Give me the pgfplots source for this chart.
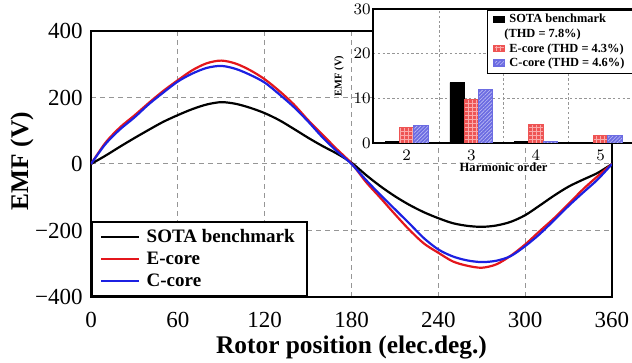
\documentclass[border=0pt]{standalone}
\usepackage{pgfplots}
\pgfplotsset{compat=1.18}
\usepackage{fontspec}
\setmainfont{Liberation Serif}
\usetikzlibrary{patterns.meta}

\definecolor{curvered}{RGB}{228,22,28}
\definecolor{curveblue}{RGB}{28,32,226}
\definecolor{barred}{RGB}{238,84,84}
\definecolor{barredlight}{RGB}{250,170,170}
\definecolor{barblue}{RGB}{108,108,226}
\definecolor{barbluelight}{RGB}{190,190,245}
\definecolor{gridgray}{RGB}{150,150,150}

\begin{document}
\begin{tikzpicture}
\useasboundingbox (0,0) rectangle (316pt,181.5pt);

% ---------------- back-EMF waveforms ----------------
\begin{axis}[
  at={(45.5pt,33pt)}, anchor=south west,
  scale only axis, width=260.5pt, height=133pt,
  xmin=0, xmax=360, ymin=-400, ymax=400,
  xtick={0,60,...,360}, ytick={-400,-200,0,200,400},
  yticklabels={−400,−200,0,200,400},
  /pgf/number format/assume math mode=true,
  grid=major,
  grid style={gridgray, dash pattern=on 2.5pt off 2pt, line width=0.5pt},
  axis line style={line width=1.2pt},
  major tick length=0pt,
  tick label style={font=\fontsize{11.5}{12}\selectfont, inner sep=0pt},
  xticklabel style={anchor=center, yshift=-11.5pt},
  yticklabel style={anchor=east, xshift=-4pt},
  xlabel={Rotor position (elec.deg.)},
  ylabel={EMF (V)},
  every axis x label/.style={at={(axis description cs:0.5,0)}, yshift=-25pt, anchor=center,
    font=\bfseries\fontsize{12.7}{14}\selectfont},
  every axis y label/.style={at={(axis description cs:0,0.5)}, xshift=-34.5pt, yshift=1.5pt,
    rotate=90, anchor=center, font=\bfseries\fontsize{12.7}{14}\selectfont},
  legend cell align=left,
  legend style={at={(0,0)}, anchor=south west, draw=black, line width=0.9pt, fill=white,
    font=\bfseries\fontsize{9.5}{10}\selectfont,
    inner xsep=4pt, inner ysep=2pt, row sep=0pt, column sep=1pt,
    nodes={text height=7pt, text depth=2pt, inner ysep=1pt, inner xsep=2pt}},
  legend image code/.code={\draw[#1, line width=1.4pt] (0pt,0pt) -- (19pt,0pt);},
]
\addplot[black, line width=1.1pt, smooth] coordinates {
 (0,0) (10,25) (20,52) (30,78) (40,103) (50,127) (60,147) (70,165) (80,179) (90,186)
 (100,181) (110,169) (120,153) (130,132) (140,106) (150,79) (160,54) (170,31) (180,4)
 (190,-33) (200,-67) (210,-97) (220,-123) (230,-145) (240,-163) (250,-178) (260,-186)
 (270,-189) (280,-185) (290,-174) (300,-154) (310,-125) (320,-95) (330,-68) (340,-47)
 (350,-27) (360,0)};
\addlegendentry{SOTA benchmark}
\addplot[curvered, line width=1.1pt, smooth] coordinates {
 (0,0) (10,64) (20,110) (30,146) (40,184) (50,220) (60,252) (70,282) (80,303) (90,311)
 (100,302) (110,282) (120,255) (130,220) (140,180) (150,132) (160,88) (170,44) (180,2)
 (190,-54) (200,-102) (210,-151) (220,-198) (230,-239) (240,-267) (250,-293) (260,-306)
 (270,-312) (280,-302) (290,-276) (300,-242) (310,-202) (320,-163) (330,-120) (340,-76)
 (350,-37) (360,0)};
\addlegendentry{E-core}
\addplot[curveblue, line width=1.1pt, smooth] coordinates {
 (0,0) (10,60) (20,104) (30,140) (40,180) (50,215) (60,248) (70,272) (80,289) (90,295)
 (100,286) (110,268) (120,245) (130,210) (140,172) (150,128) (160,80) (170,38) (180,0)
 (190,-48) (200,-93) (210,-136) (220,-179) (230,-223) (240,-257) (250,-278) (260,-290)
 (270,-295) (280,-291) (290,-277) (300,-247) (310,-211) (320,-169) (330,-126) (340,-86)
 (350,-47) (360,0)};
\addlegendentry{C-core}
\end{axis}

% ---------------- harmonic spectrum ----------------
\begin{axis}[
  at={(186.5pt,110pt)}, anchor=south west,
  scale only axis, width=130.6pt, height=67pt,
  xmin=1.478, xmax=5.52, ymin=0, ymax=30,
  xtick={2,3,4,5}, ytick={0,10,20,30},
  minor xtick={2.5,3.5,4.5},
  ymajorgrids, xminorgrids,
  grid style={gridgray, dash pattern=on 1.2pt off 1.2pt, line width=0.45pt},
  minor grid style={gridgray, dash pattern=on 1.2pt off 1.2pt, line width=0.45pt},
  axis background/.style={fill=white},
  axis line style={line width=1pt},
  major tick length=0pt, minor tick length=0pt,
  tick label style={font=\fontsize{8.3}{9}\selectfont, inner sep=0pt},
  xticklabel style={anchor=center, yshift=-6pt},
  yticklabel style={anchor=east, xshift=-1pt},
  xlabel={Harmonic order}, ylabel={EMF (V)},
  every axis x label/.style={at={(axis description cs:0.5,0)}, yshift=-12pt, anchor=center,
    font=\bfseries\fontsize{6.3}{7}\selectfont},
  every axis y label/.style={at={(axis description cs:0,0.5)}, xshift=-17pt,
    rotate=90, anchor=center, font=\bfseries\fontsize{5.2}{6}\selectfont},
  ybar, bar width=7.15pt,
  legend cell align=left,
  legend style={at={(1,1)}, anchor=north east, draw=black, line width=0.8pt, fill=white,
    font=\bfseries\fontsize{6.2}{7}\selectfont,
    inner xsep=3pt, inner ysep=1.3pt, row sep=0pt, column sep=0.5pt,
    nodes={text height=4.8pt, text depth=1.5pt, inner ysep=0.5pt, inner xsep=1.5pt}},
  legend image code/.code={\fill[#1] (0pt,-1.4pt) rectangle (5.2pt,1.6pt);},
]
\addplot[fill=black, draw=black, bar shift=-7.15pt] coordinates {(2,0.3) (3,13.5) (4,0.3) (5,0.1)};
\addlegendentry{SOTA benchmark}
\addlegendimage{empty legend}
\addlegendentry{\hspace{-2.5pt}(THD = 7.8\%)}
\addplot[fill=barred, draw=barred, bar shift=0pt,
  postaction={pattern={Hatch[distance=2pt, line width=0.35pt]}, pattern color=barredlight}]
  coordinates {(2,3.5) (3,9.8) (4,4.1) (5,1.7)};
\addlegendentry{E-core (THD = 4.3\%)}
\addplot[fill=barblue, draw=barblue, bar shift=7.15pt,
  postaction={pattern={Lines[angle=45, distance=1.3pt, line width=0.3pt]}, pattern color=barbluelight}]
  coordinates {(2,4.0) (3,12.0) (4,0.4) (5,1.7)};
\addlegendentry{C-core (THD = 4.6\%)}
\end{axis}
\end{tikzpicture}
\end{document}
